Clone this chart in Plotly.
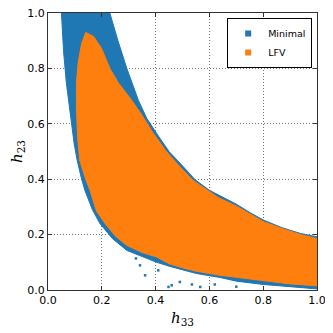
import plotly.graph_objects as go

# Outline of the "Minimal" region (blue)
minimal_h33 = [0.05, 0.23, 0.26, 0.293, 0.336, 0.367, 0.404, 0.45, 0.504, 0.547, 0.60,
               0.647, 0.70, 0.75, 0.802, 0.87, 0.939, 1.0,
               1.0, 0.9, 0.8, 0.7, 0.64, 0.55, 0.50, 0.45, 0.404, 0.35, 0.293, 0.24,
               0.193, 0.165, 0.137, 0.125, 0.108, 0.097, 0.088, 0.08, 0.068, 0.058, 0.05]
minimal_h23 = [1.0, 1.0, 0.90, 0.80, 0.685, 0.62, 0.565, 0.50, 0.444, 0.398, 0.36,
               0.336, 0.31, 0.28, 0.252, 0.225, 0.204, 0.192,
               0.004, 0.012, 0.02, 0.032, 0.045, 0.06, 0.072, 0.086, 0.10, 0.12, 0.143, 0.185,
               0.24, 0.29, 0.36, 0.40, 0.47, 0.53, 0.60, 0.65, 0.75, 0.86, 1.0]

# Outline of the "LFV" region (orange)
lfv_h33 = [0.14, 0.17, 0.20, 0.23, 0.26, 0.311, 0.35, 0.392, 0.44, 0.491, 0.54, 0.60,
           0.634, 0.70, 0.80, 0.87, 0.939, 1.0,
           1.0, 0.9, 0.8, 0.7, 0.64, 0.55, 0.5, 0.45, 0.404, 0.35, 0.293, 0.25, 0.212,
           0.18, 0.156, 0.14, 0.118, 0.11, 0.106, 0.106, 0.112, 0.125, 0.14]
lfv_h23 = [0.93, 0.915, 0.87, 0.80, 0.75, 0.685, 0.63, 0.565, 0.50, 0.444, 0.395, 0.355,
           0.333, 0.303, 0.247, 0.222, 0.200, 0.186,
           0.015, 0.022, 0.033, 0.045, 0.053, 0.068, 0.08, 0.095, 0.119, 0.135, 0.161, 0.195, 0.24,
           0.285, 0.36, 0.40, 0.468, 0.55, 0.65, 0.75, 0.82, 0.89, 0.93]

# Scattered points outside the dense regions
minimal_stray_h33 = [0.361, 0.448, 0.327, 0.46, 0.49, 0.535, 0.566, 0.342, 0.41, 0.62, 0.70]
minimal_stray_h23 = [0.053, 0.011, 0.114, 0.017, 0.029, 0.020, 0.011, 0.089, 0.071, 0.02, 0.012]
lfv_stray_h33 = [0.149, 0.174, 0.131, 0.193, 0.16, 0.185]
lfv_stray_h23 = [0.92, 0.90, 0.89, 0.877, 0.86, 0.84]

blue = "#1f77b4"
orange = "#ff7f0e"

fig = go.Figure()

fig.add_trace(go.Scatter(
    x=minimal_h33, y=minimal_h23, mode="lines", fill="toself",
    fillcolor=blue, line=dict(color=blue, width=1), showlegend=False, hoverinfo="skip",
))
fig.add_trace(go.Scatter(
    x=minimal_stray_h33, y=minimal_stray_h23, mode="markers",
    marker=dict(color=blue, size=2.5, symbol="square"), showlegend=False,
))
fig.add_trace(go.Scatter(
    x=lfv_h33, y=lfv_h23, mode="lines", fill="toself",
    fillcolor=orange, line=dict(color=orange, width=1), showlegend=False, hoverinfo="skip",
))
fig.add_trace(go.Scatter(
    x=lfv_stray_h33, y=lfv_stray_h23, mode="markers",
    marker=dict(color=orange, size=2.5, symbol="square"), showlegend=False,
))

# legend entries
fig.add_trace(go.Scatter(x=[None], y=[None], mode="markers", name="Minimal",
                         marker=dict(color=blue, size=6, symbol="square")))
fig.add_trace(go.Scatter(x=[None], y=[None], mode="markers", name="LFV",
                         marker=dict(color=orange, size=6, symbol="square")))

axis_style = dict(
    range=[0, 1], dtick=0.2, tickformat=".1f", automargin=False, ticklabeloverflow="allow",
    showgrid=True, gridcolor="rgba(0,0,0,0.55)", gridwidth=1, griddash="1px,2px",
    zeroline=False, showline=True, linecolor="#333", linewidth=1, mirror="ticks",
    ticks="inside", ticklen=4, tickcolor="#333", layer="above traces",
    tickfont=dict(family="DejaVu Sans", size=11, color="black"),
)

fig.update_xaxes(**axis_style, title=dict(
    text="<i>h</i><sub>33</sub>", font=dict(family="DejaVu Serif", size=15, color="black"),
    standoff=6))
fig.update_yaxes(**axis_style, title=dict(
    text="<i>h</i><sub>23</sub>", font=dict(family="DejaVu Serif", size=15, color="black"),
    standoff=6))

# the page puts the figure 8px in from the top-left corner, so it is 325px square
fig.update_layout(
    width=325, height=325,
    margin=dict(l=40, r=16, t=5, b=43, autoexpand=False),
    plot_bgcolor="white", paper_bgcolor="white",
    legend=dict(
        x=0.982, y=0.982, xanchor="right", yanchor="top",
        bgcolor="white", bordercolor="black", borderwidth=1,
        font=dict(family="DejaVu Sans", size=9.5, color="black"),
        itemwidth=30, tracegroupgap=0,
    ),
)

fig.write_html("out.html")
